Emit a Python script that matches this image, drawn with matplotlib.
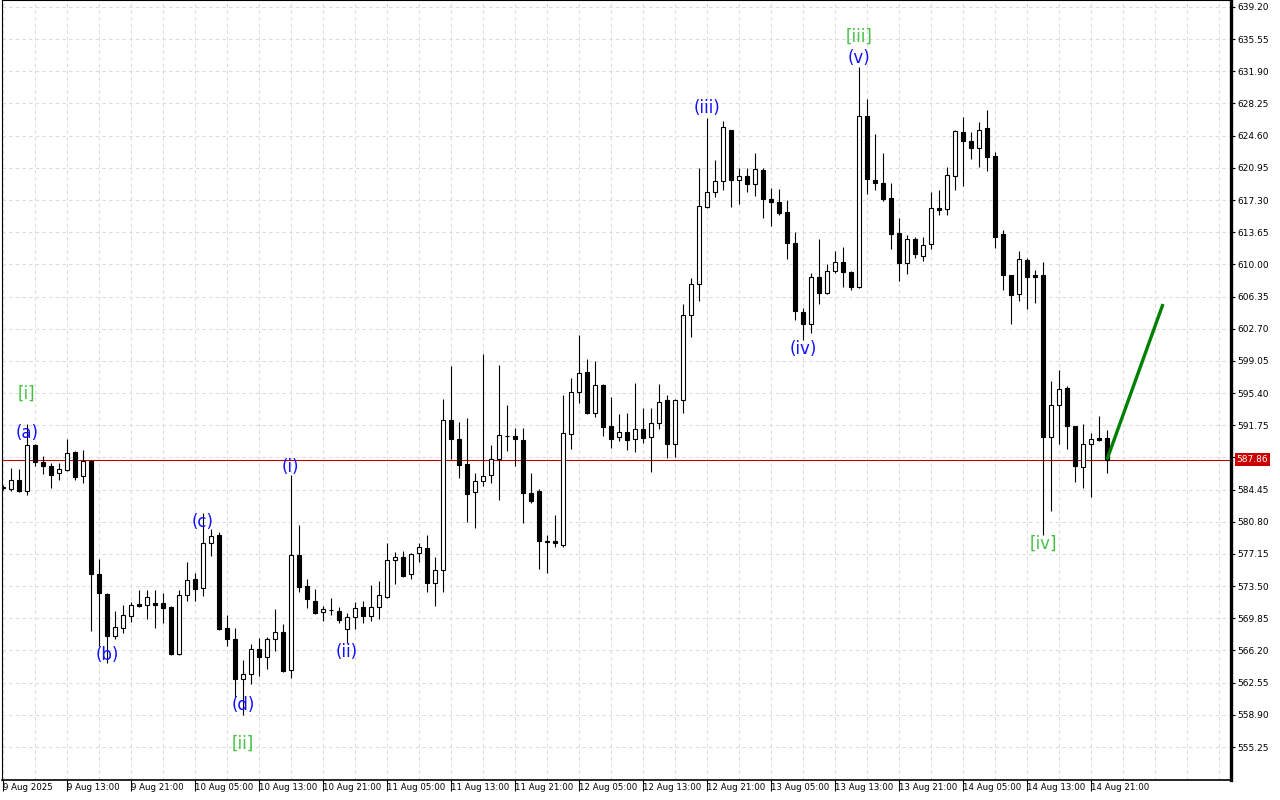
import matplotlib
matplotlib.use("Agg")
import matplotlib.pyplot as plt
import matplotlib.transforms as mtransforms

# hourly candles, bar 0 = 9 Aug 05:00
opens = [584.80, 584.56, 585.55, 584.26, 589.48, 587.59, 587.13, 586.31, 586.68, 588.72,
         585.96, 587.70, 574.85, 572.58, 567.85, 568.72, 570.08, 571.45, 571.33, 571.56,
         571.56, 571.14, 565.84, 572.47, 574.28, 573.26, 578.36, 579.27, 568.72, 567.47,
         562.94, 563.50, 566.34, 565.50, 567.47, 568.27, 563.96, 577.00, 573.52, 571.79,
         570.53, 570.80, 570.72, 568.61, 570.04, 571.10, 570.12, 571.17, 572.31, 576.47,
         576.78, 574.85, 577.23, 577.80, 573.83, 575.30, 592.32, 590.20, 587.36, 584.15,
         585.40, 586.08, 587.93, 590.50, 590.50, 590.08, 584.04, 584.30, 578.66, 578.58,
         578.17, 590.73, 595.49, 597.76, 593.11, 596.32, 591.67, 590.39, 590.96, 590.16,
         591.30, 590.46, 591.98, 594.59, 589.60, 594.59, 604.23, 607.75, 616.55, 618.26,
         619.43, 625.25, 619.54, 619.99, 619.08, 620.67, 617.39, 617.05, 615.91, 612.39,
         604.61, 603.21, 608.54, 606.72, 609.22, 610.24, 609.11, 607.48, 626.87, 619.58,
         619.20, 617.50, 613.53, 610.20, 612.85, 610.92, 612.29, 616.40, 616.25, 620.07,
         624.99, 624.04, 623.25, 625.44, 622.30, 613.43, 608.80, 606.64, 610.50, 608.80,
         608.80, 590.46, 594.09, 595.95, 591.67, 587.05, 589.60, 590.28, 590.28]
highs = [585.00, 586.87, 586.76, 591.90, 589.60, 588.23, 587.44, 587.51, 590.16, 588.87,
         588.95, 587.81, 576.55, 572.69, 570.68, 571.33, 571.71, 573.06, 573.06, 573.06,
         572.69, 571.20, 573.06, 576.25, 574.96, 581.77, 579.95, 579.61, 570.23, 568.72,
         565.13, 566.94, 567.59, 567.77, 570.91, 569.21, 586.11, 580.44, 574.28, 573.15,
         571.25, 572.12, 571.10, 570.42, 571.74, 571.85, 573.64, 574.12, 578.43, 577.38,
         577.53, 577.30, 578.43, 579.31, 576.78, 594.70, 598.48, 592.16, 592.54, 586.31,
         599.84, 589.52, 598.59, 594.05, 591.41, 591.41, 586.31, 584.49, 579.31, 581.53,
         595.19, 597.08, 601.99, 599.27, 599.04, 596.40, 594.96, 592.99, 593.15, 596.52,
         593.68, 593.68, 596.40, 595.19, 594.70, 605.48, 608.43, 620.90, 626.58, 621.80,
         626.28, 625.30, 620.97, 620.90, 622.59, 620.90, 618.71, 618.56, 617.27, 613.71,
         605.09, 608.99, 612.84, 610.05, 611.52, 611.94, 609.20, 632.37, 628.73, 624.84,
         622.62, 619.24, 615.23, 613.34, 613.15, 613.07, 618.18, 618.45, 621.02, 625.20,
         626.69, 625.06, 626.12, 627.48, 622.72, 613.92, 608.85, 611.47, 610.69, 609.37,
         610.24, 596.78, 597.98, 596.21, 591.70, 591.90, 590.84, 592.81, 591.22]
lows = [584.40, 584.33, 584.20, 583.88, 587.13, 586.23, 584.67, 585.55, 586.60, 585.55,
        585.24, 568.45, 566.75, 564.75, 567.47, 568.22, 569.40, 571.14, 569.81, 568.72,
        569.36, 565.70, 565.66, 571.77, 571.85, 572.42, 576.96, 568.53, 566.75, 560.96,
        558.88, 562.40, 563.31, 564.11, 566.18, 563.77, 563.12, 572.87, 571.06, 570.34,
        569.59, 570.23, 569.29, 567.02, 568.61, 569.36, 569.60, 569.74, 572.12, 573.75,
        574.51, 574.35, 576.28, 572.81, 571.29, 572.87, 587.89, 585.74, 580.82, 580.14,
        584.90, 585.24, 583.31, 588.87, 587.13, 580.70, 582.90, 575.48, 574.96, 577.98,
        577.95, 589.06, 594.32, 593.00, 592.73, 590.57, 589.21, 590.02, 588.95, 588.76,
        589.78, 586.49, 591.33, 588.08, 588.19, 593.11, 601.71, 605.88, 616.40, 617.62,
        618.45, 616.48, 616.90, 618.25, 617.75, 615.24, 614.40, 615.58, 610.57, 603.69,
        601.41, 602.18, 605.48, 606.60, 608.99, 607.41, 607.08, 607.29, 618.03, 618.45,
        617.23, 611.79, 608.07, 608.95, 610.69, 610.39, 611.76, 615.56, 615.60, 618.45,
        618.87, 621.99, 621.08, 620.63, 611.90, 607.10, 603.24, 605.79, 604.98, 605.67,
        579.31, 582.06, 589.62, 589.06, 585.35, 584.67, 583.65, 590.00, 586.31]
closes = [584.60, 585.55, 584.33, 589.48, 587.55, 587.17, 586.15, 586.76, 588.57, 585.92,
          587.70, 574.85, 572.69, 567.85, 568.84, 570.20, 571.33, 571.26, 572.24, 571.37,
          571.06, 565.84, 572.47, 574.17, 573.15, 578.36, 579.23, 568.64, 567.47, 562.94,
          563.50, 566.34, 565.50, 567.47, 568.27, 563.91, 577.00, 573.44, 572.01, 570.49,
          570.87, 570.78, 569.63, 570.04, 571.06, 570.15, 571.17, 572.50, 576.47, 576.78,
          574.69, 577.11, 577.91, 573.83, 575.34, 592.32, 590.16, 587.28, 584.00, 585.40,
          586.00, 587.93, 590.62, 590.52, 590.16, 584.11, 583.20, 578.66, 578.48, 578.43,
          590.84, 595.49, 597.72, 593.11, 596.29, 591.59, 590.23, 590.96, 590.12, 591.30,
          590.35, 591.98, 594.43, 589.60, 594.59, 604.23, 607.75, 616.59, 618.18, 619.43,
          625.56, 619.54, 619.99, 619.08, 620.78, 617.45, 617.05, 615.87, 612.39, 604.71,
          603.21, 608.54, 606.72, 609.22, 610.24, 609.11, 607.48, 626.88, 619.66, 619.20,
          617.42, 613.49, 610.20, 612.85, 611.21, 612.17, 616.37, 616.21, 620.11, 625.11,
          624.04, 623.25, 625.21, 622.22, 613.15, 608.84, 606.53, 610.58, 608.61, 608.61,
          590.46, 594.05, 595.91, 591.71, 587.17, 589.60, 590.16, 590.12, 587.86]

time_labels = ["9 Aug 2025", "9 Aug 13:00", "9 Aug 21:00", "10 Aug 05:00", "10 Aug 13:00",
               "10 Aug 21:00", "11 Aug 05:00", "11 Aug 13:00", "11 Aug 21:00", "12 Aug 05:00",
               "12 Aug 13:00", "12 Aug 21:00", "13 Aug 05:00", "13 Aug 13:00", "13 Aug 21:00",
               "14 Aug 05:00", "14 Aug 13:00", "14 Aug 21:00"]
price_labels = ["639.20", "635.55", "631.90", "628.25", "624.60", "620.95", "617.30", "613.65",
                "610.00", "606.35", "602.70", "599.05", "595.40", "591.75", "588.10", "584.45",
                "580.80", "577.15", "573.50", "569.85", "566.20", "562.55", "558.90", "555.25"]

wave_text = ["[i]", "(a)", "(b)", "(c)", "(d)", "[ii]", "(i)", "(ii)",
             "(iii)", "(iv)", "(v)", "[iii]", "[iv]"]
wave_bar = [3, 3, 13, 25, 30, 30, 36, 43, 88, 100, 107, 107, 130]
wave_price = [595.30, 590.88, 565.69, 580.78, 560.02, 555.60, 587.02, 566.03,
              627.72, 600.41, 633.41, 635.80, 578.28]

bid = 587.86
proj_x = [138, 145]
proj_y = [587.86, 605.5]

fig = plt.figure(figsize=(12.8, 8), dpi=100)
ax = fig.add_axes([2 / 1280, 20 / 800, 1229 / 1280, 780 / 800])
ax.set_xlim(-0.1, 153.5)
ax.set_ylim(551.51, 639.99)

n = len(opens)
idx = list(range(n))
ax.vlines(idx, lows, highs, color="black", linewidth=0.8, zorder=3)
bottoms = [min(o, c) for o, c in zip(opens, closes)]
heights = [abs(c - o) for o, c in zip(opens, closes)]
faces = ["white" if c >= o else "black" for o, c in zip(opens, closes)]
ax.bar(idx, heights, bottom=bottoms, width=0.5, color=faces, edgecolor="black",
       linewidth=0.8, zorder=4)

# bid line and projection
ax.axhline(bid, color="#C00000", linewidth=0.8, zorder=2)
ax.plot(proj_x, proj_y, color="#008000", linewidth=2.4, zorder=5, solid_capstyle="butt")

for t, b, p in zip(wave_text, wave_bar, wave_price):
    col = "#44C244" if t.startswith("[") else "#1010FF"
    ax.text(b, p, t, color=col, fontsize=12, ha="center", va="center", zorder=6)

# grid
price_vals = [float(s) for s in price_labels]
ax.set_yticks(price_vals)
ax.set_yticklabels(price_labels)
ax.set_xticks(range(0, 8 * len(time_labels), 8))
ax.set_xticklabels(time_labels, ha="left")
ax.set_xticks(range(0, 154, 4), minor=True)
ax.grid(True, which="both", color="#DCDCDC", linestyle=(0, (3, 3)), linewidth=0.8, zorder=0)

ax.yaxis.tick_right()
ax.tick_params(axis="y", which="major", length=3, width=0.8, pad=1.5, labelsize=6.5,
               direction="out", right=True, left=False)
ax.tick_params(axis="x", which="major", length=8, width=0.8, pad=-6, labelsize=6.2,
               direction="out")
ax.tick_params(axis="x", which="minor", length=0)
for lbl in ax.get_xticklabels():
    lbl.set_horizontalalignment("left")

for side in ["left", "top"]:
    ax.spines[side].set_linewidth(0.8)
ax.spines["right"].set_linewidth(2.4)
ax.spines["bottom"].set_linewidth(1.2)

trans = mtransforms.blended_transform_factory(ax.transAxes, ax.transData)
ax.text(1.0045, bid, "587.86", transform=trans, color="white", fontsize=6.5,
        ha="left", va="center", zorder=7,
        bbox=dict(boxstyle="square,pad=0.2", facecolor="#CC0000", edgecolor="none"))

fig.savefig("out.png", dpi=100, facecolor="white")
